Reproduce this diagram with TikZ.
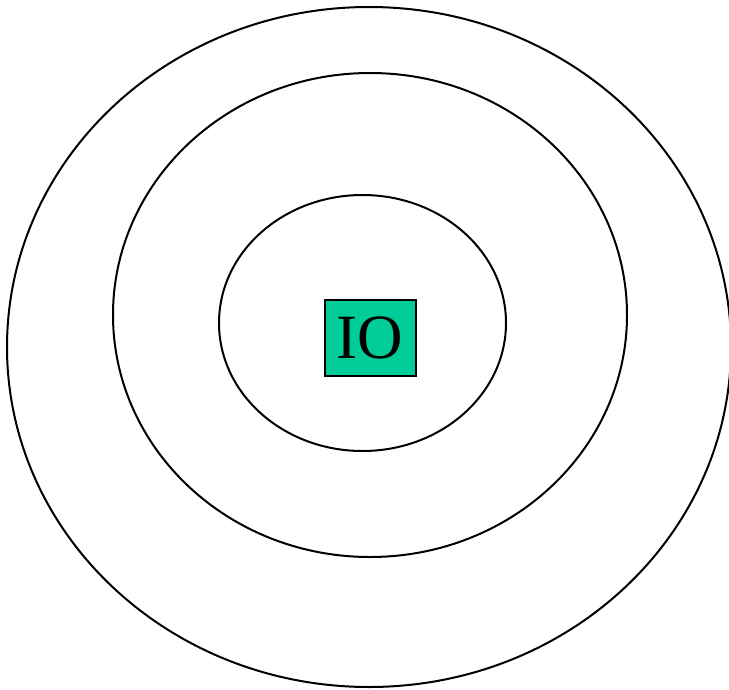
\documentclass[tikz,border=0pt]{standalone}
\usepackage{fontspec}
\setmainfont{Liberation Serif}
\definecolor{boxgreen}{HTML}{00CC99}
\begin{document}
\begin{tikzpicture}[x=1pt,y=-1pt,
  ring/.style={draw=black,line width=2pt},
  iobox/.style={draw=black,line width=2pt,fill=boxgreen,minimum width=91pt,minimum height=76pt,inner sep=0pt,font=\fontsize{63}{63}\selectfont}]
\useasboundingbox (0,0) rectangle (729,689);
\draw[ring] (369,347) ellipse [x radius=362, y radius=340];
\draw[ring] (370,315) ellipse [x radius=257, y radius=242];
\draw[ring] (362.5,323) ellipse [x radius=143.5, y radius=128];
\node[iobox] (io) at (370,338) {IO};
\end{tikzpicture}
\end{document}
